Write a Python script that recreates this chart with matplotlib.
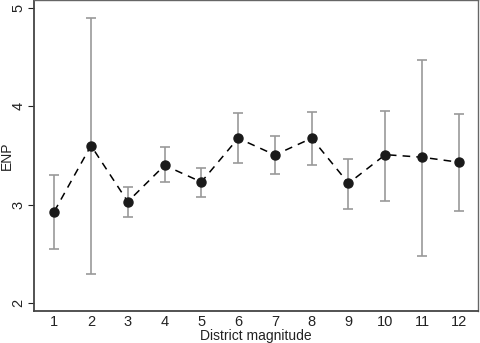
# ENP by district magnitude with confidence intervals
import matplotlib.pyplot as plt

plt.rcParams['font.family'] = ['Liberation Sans', 'DejaVu Sans']

magnitude = [1, 2, 3, 4, 5, 6, 7, 8, 9, 10, 11, 12]
enp = [2.93, 3.60, 3.03, 3.40, 3.23, 3.675, 3.505, 3.675, 3.217, 3.508, 3.482, 3.431]
upper = [3.305, 4.894, 3.18, 3.587, 3.373, 3.929, 3.70, 3.945, 3.464, 3.949, 4.467, 3.925]
lower = [2.553, 2.30, 2.875, 3.228, 3.08, 3.42, 3.31, 3.40, 2.96, 3.04, 2.48, 2.94]

err_low = [e - l for e, l in zip(enp, lower)]
err_high = [u - e for u, e in zip(upper, enp)]

fig = plt.figure(figsize=(4.8, 3.43), dpi=100)
ax = fig.add_axes([0.0708, 0.0933, 0.925, 0.907])

ax.errorbar(magnitude, enp, yerr=[err_low, err_high], fmt='none',
            ecolor='#999999', elinewidth=1.2, capsize=3.5, capthick=1.2)
ax.plot(magnitude, enp, color='black', linestyle=(0, (5, 4)), linewidth=1.1,
        marker='o', markersize=6.5, markerfacecolor='#1a1a1a', markeredgecolor='#1a1a1a')

ax.set_xlim(0.45, 12.52)
ax.set_ylim(1.92, 5.08)
ax.set_xticks(magnitude)
ax.set_yticks([2, 3, 4, 5])
ax.tick_params(axis='x', length=0, labelsize=10.5, pad=3, colors='#222222')
ax.tick_params(axis='y', length=4, labelsize=10.5, pad=2, colors='#222222')
for lbl in ax.get_yticklabels():
    lbl.set_rotation(90)
    lbl.set_va('center')

ax.set_xlabel('District magnitude', fontsize=10, color='#222222')
ax.set_ylabel('ENP', fontsize=10, color='#222222')
ax.xaxis.set_label_coords(0.5, -0.058)
ax.yaxis.set_label_coords(-0.045, 0.5)

for side in ['left', 'bottom']:
    ax.spines[side].set_linewidth(1.3)
    ax.spines[side].set_color('#444444')
for side in ['top', 'right']:
    ax.spines[side].set_linewidth(1.0)
    ax.spines[side].set_color('#666666')

fig.savefig('out.png', dpi=100)
